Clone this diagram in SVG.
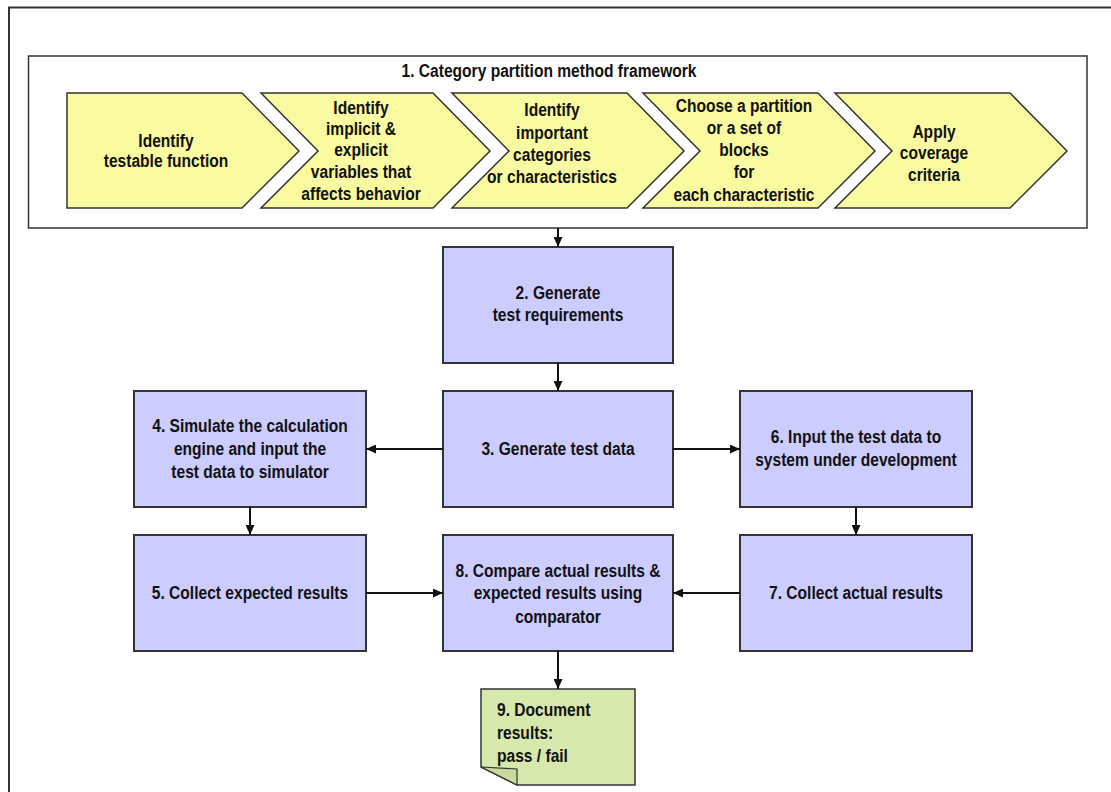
<svg xmlns="http://www.w3.org/2000/svg" width="1111" height="792" viewBox="0 0 1111 792">
<style>
  .t { font-family: "Liberation Sans", Arial, sans-serif; font-weight: bold; font-size: 19px; fill: #111; }
  .c { text-anchor: middle; }
  .chev { fill: #FAFAA0; stroke: #333; stroke-width: 1.5; }
  .box { fill: #CCCCFF; stroke: #333; stroke-width: 2; }
  .doc { fill: #D7E8AC; stroke: #333; stroke-width: 1.5; }
  .conn { fill: none; stroke: #111; stroke-width: 2; marker-end: url(#arr); }
</style>
<defs>
  <marker id="arr" markerUnits="userSpaceOnUse" markerWidth="11" markerHeight="9" refX="10" refY="4.5" orient="auto">
    <path d="M0,0 L10,4.5 L0,9 Z" fill="#111"/>
  </marker>
</defs>
<rect width="1111" height="792" fill="#fff"/>
<path d="M9,792 V7.5 H1111" fill="none" stroke="#333" stroke-width="2"/>

<g id="framework">
  <rect x="28.5" y="56" width="1058.5" height="172" fill="#fff" stroke="#333" stroke-width="1.5"/>
  <text class="t c" transform="translate(549 0) scale(0.82 1)" x="0" y="77">1. Category partition method framework</text>
</g>

<g id="chev1">
  <path class="chev" d="M67,93 L242,93 L299,151 L242,208 L67,208 Z"/>
  <text class="t c" transform="translate(166 0) scale(0.82 1)" x="0" y="147">Identify</text>
  <text class="t c" transform="translate(166 0) scale(0.82 1)" x="0" y="167">testable function</text>
</g>
<g id="chev2">
  <path class="chev" d="M261,93 L433,93 L490,151 L433,208 L261,208 L318,151 Z"/>
  <text class="t c" transform="translate(361 0) scale(0.82 1)" x="0" y="114">Identify</text>
  <text class="t c" transform="translate(361 0) scale(0.82 1)" x="0" y="135">implicit &amp;</text>
  <text class="t c" transform="translate(361 0) scale(0.82 1)" x="0" y="156">explicit</text>
  <text class="t c" transform="translate(361 0) scale(0.82 1)" x="0" y="178">variables that</text>
  <text class="t c" transform="translate(361 0) scale(0.82 1)" x="0" y="200">affects behavior</text>
</g>
<g id="chev3">
  <path class="chev" d="M452,93 L627,93 L684,151 L627,208 L452,208 L509,151 Z"/>
  <text class="t c" transform="translate(552 0) scale(0.82 1)" x="0" y="116">Identify</text>
  <text class="t c" transform="translate(552 0) scale(0.82 1)" x="0" y="139">important</text>
  <text class="t c" transform="translate(552 0) scale(0.82 1)" x="0" y="161">categories</text>
  <text class="t c" transform="translate(552 0) scale(0.82 1)" x="0" y="183">or characteristics</text>
</g>
<g id="chev4">
  <path class="chev" d="M643,93 L818,93 L875,151 L818,208 L643,208 L700,151 Z"/>
  <text class="t c" transform="translate(744 0) scale(0.82 1)" x="0" y="112">Choose a partition</text>
  <text class="t c" transform="translate(744 0) scale(0.82 1)" x="0" y="134">or a set of</text>
  <text class="t c" transform="translate(744 0) scale(0.82 1)" x="0" y="156">blocks</text>
  <text class="t c" transform="translate(744 0) scale(0.82 1)" x="0" y="178">for</text>
  <text class="t c" transform="translate(744 0) scale(0.82 1)" x="0" y="201">each characteristic</text>
</g>
<g id="chev5">
  <path class="chev" d="M835,93 L1010,93 L1067,151 L1010,208 L835,208 L892,151 Z"/>
  <text class="t c" transform="translate(934 0) scale(0.82 1)" x="0" y="138">Apply</text>
  <text class="t c" transform="translate(934 0) scale(0.82 1)" x="0" y="159">coverage</text>
  <text class="t c" transform="translate(934 0) scale(0.82 1)" x="0" y="181">criteria</text>
</g>

<g id="box2">
  <rect class="box" x="443" y="247" width="230" height="116"/>
  <text class="t c" transform="translate(558 0) scale(0.82 1)" x="0" y="299">2. Generate</text>
  <text class="t c" transform="translate(558 0) scale(0.82 1)" x="0" y="321">test requirements</text>
</g>
<g id="box3">
  <rect class="box" x="443" y="391" width="230" height="116"/>
  <text class="t c" transform="translate(558 0) scale(0.82 1)" x="0" y="455">3. Generate test data</text>
</g>
<g id="box4">
  <rect class="box" x="134" y="391" width="232" height="116"/>
  <text class="t c" transform="translate(250 0) scale(0.82 1)" x="0" y="432">4. Simulate the calculation</text>
  <text class="t c" transform="translate(250 0) scale(0.82 1)" x="0" y="455">engine and input the</text>
  <text class="t c" transform="translate(250 0) scale(0.82 1)" x="0" y="478">test data to simulator</text>
</g>
<g id="box6">
  <rect class="box" x="740" y="391" width="232" height="116"/>
  <text class="t c" transform="translate(856 0) scale(0.82 1)" x="0" y="443">6. Input the test data to</text>
  <text class="t c" transform="translate(856 0) scale(0.82 1)" x="0" y="466">system under development</text>
</g>
<g id="box5">
  <rect class="box" x="134" y="535" width="232" height="116"/>
  <text class="t c" transform="translate(250 0) scale(0.82 1)" x="0" y="599">5. Collect expected results</text>
</g>
<g id="box8">
  <rect class="box" x="443" y="535" width="230" height="116"/>
  <text class="t c" transform="translate(558 0) scale(0.82 1)" x="0" y="577">8. Compare actual results &amp;</text>
  <text class="t c" transform="translate(558 0) scale(0.82 1)" x="0" y="599">expected results using</text>
  <text class="t c" transform="translate(558 0) scale(0.82 1)" x="0" y="623">comparator</text>
</g>
<g id="box7">
  <rect class="box" x="740" y="535" width="232" height="116"/>
  <text class="t c" transform="translate(856 0) scale(0.82 1)" x="0" y="599">7. Collect actual results</text>
</g>
<g id="doc9">
  <path class="doc" d="M481,689 L635,689 L635,785 L517,785 L481,767 Z"/>
  <path d="M481,767 L517,769 L517,785 Z" fill="#C9DA9C" stroke="#333" stroke-width="1.2"/>
  <text class="t" transform="translate(497 0) scale(0.82 1)" x="0" y="716">9. Document</text>
  <text class="t" transform="translate(497 0) scale(0.82 1)" x="0" y="739">results:</text>
  <text class="t" transform="translate(497 0) scale(0.82 1)" x="0" y="762">pass / fail</text>
</g>

<g id="connectors">
  <path class="conn" d="M558,228 V247"/>
  <path class="conn" d="M558,363 V391"/>
  <path class="conn" d="M443,449 H366"/>
  <path class="conn" d="M673,449 H740"/>
  <path class="conn" d="M250,507 V535"/>
  <path class="conn" d="M856,507 V535"/>
  <path class="conn" d="M366,593 H443"/>
  <path class="conn" d="M740,593 H673"/>
  <path class="conn" d="M558,651 V689"/>
</g>
</svg>
